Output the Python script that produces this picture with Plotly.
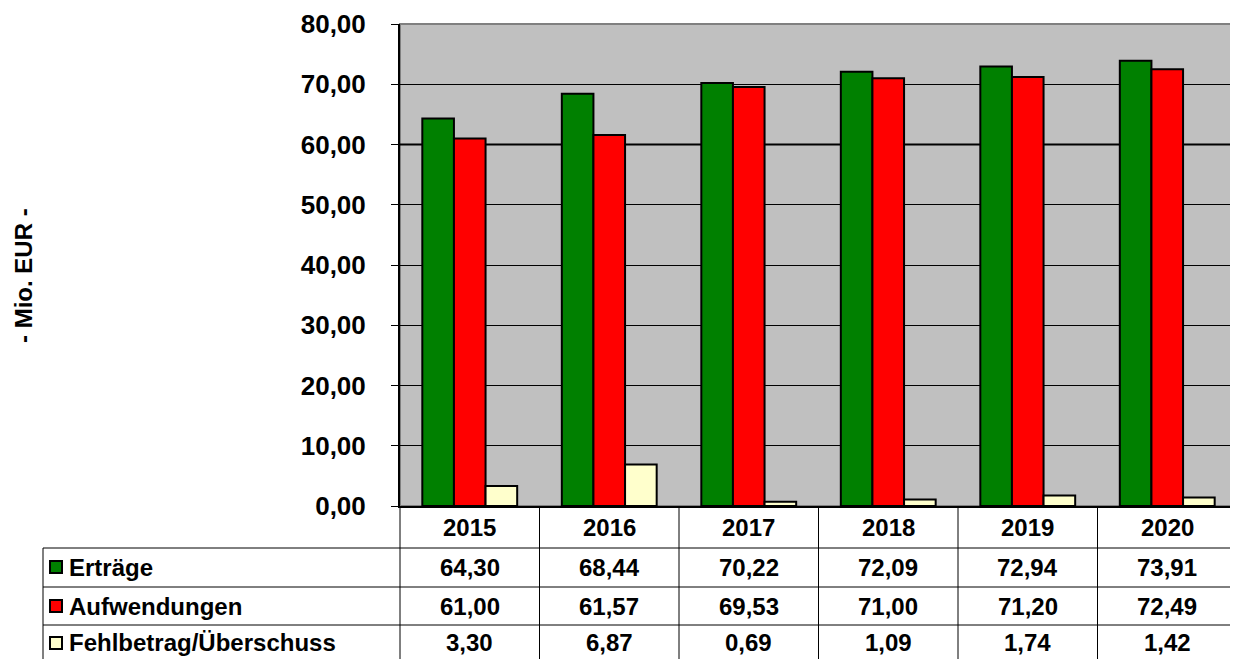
import plotly.graph_objects as go

years = ["2015", "2016", "2017", "2018", "2019", "2020"]
ertraege = [64.30, 68.44, 70.22, 72.09, 72.94, 73.91]
aufwendungen = [61.00, 61.57, 69.53, 71.00, 71.20, 72.49]
fehlbetrag = [3.30, 6.87, 0.69, 1.09, 1.74, 1.42]

series = [
    ("Erträge", ertraege, "#008000"),
    ("Aufwendungen", aufwendungen, "#FF0000"),
    ("Fehlbetrag/Überschuss", fehlbetrag, "#FFFFCC"),
]

OFF = 8  # page body margin in the browser
PW, PH = 1238, 659          # page size
W, H = PW - OFF, PH - OFF   # figure size
PLOT_L, PLOT_R, PLOT_T, PLOT_B = 400, 1237, 24, 506  # page pixels
L, T = PLOT_L - OFF, PLOT_T - OFF
R, B = OFF + W - PLOT_R, OFF + H - PLOT_B
plot_h = PLOT_B - PLOT_T
plot_w = PLOT_R - PLOT_L
FONT = "Liberation Sans, Arial, sans-serif"
n = len(years)


def py(p):
    # page pixel row -> paper y
    return (PLOT_B - p) / plot_h


def px(p):
    return (p - PLOT_L) / plot_w


def de(v):
    return f"{v:.2f}".replace(".", ",")


fig = go.Figure()
for name, vals, col in series:
    fig.add_trace(go.Bar(
        x=years, y=vals, name=name,
        marker=dict(color=col, line=dict(color="black", width=2)),
    ))

# plot border (grey top/right)
fig.add_shape(type="rect", xref="paper", yref="paper", x0=0, x1=1, y0=0, y1=1,
              line=dict(color="#808080", width=2), layer="below")
fig.add_hline(y=60, line=dict(color="black", width=2), layer="below")

# data table below the plot
row_lines = [548, 587, 625]
for r in row_lines:
    fig.add_shape(type="line", xref="paper", yref="paper",
                  x0=px(43), x1=px(PW + 5), y0=py(r), y1=py(r),
                  line=dict(color="black", width=1))
fig.add_shape(type="line", xref="paper", yref="paper",
              x0=px(43), x1=px(43), y0=py(548), y1=py(PH + 5),
              line=dict(color="black", width=1))
for i in range(n):
    fig.add_shape(type="line", xref="paper", yref="paper",
                  x0=i / n, x1=i / n, y0=0, y1=py(PH + 5),
                  line=dict(color="black", width=1))

for i, yr in enumerate(years):
    fig.add_annotation(x=(i + 0.5) / n, xref="paper", y=py(527), yref="paper",
                       text=f"<b>{yr}</b>", showarrow=False,
                       xanchor="center", yanchor="middle",
                       font=dict(size=24, color="black", family=FONT))

row_centers = [567, 606, 643]
for (name, vals, col), rc in zip(series, row_centers):
    fig.add_shape(type="rect", xref="paper", yref="paper",
                  x0=px(50), x1=px(62), y0=py(rc - 6), y1=py(rc + 6),
                  fillcolor=col, line=dict(color="black", width=2))
    fig.add_annotation(x=px(67), xref="paper", y=py(rc), yref="paper",
                       text=f"<b>{name}</b>", xanchor="left", yanchor="middle",
                       showarrow=False,
                       font=dict(size=24, color="black", family=FONT))
    for i, v in enumerate(vals):
        fig.add_annotation(x=(i + 0.5) / n, xref="paper", y=py(rc), yref="paper",
                           text=f"<b>{de(v)}</b>", showarrow=False,
                           xanchor="center", yanchor="middle",
                           font=dict(size=24, color="black", family=FONT))

fig.add_annotation(x=px(23), xref="paper", y=py(276), yref="paper",
                   text="<b>- Mio. EUR -</b>", textangle=-90, showarrow=False,
                   xanchor="center", yanchor="middle", borderpad=0,
                   font=dict(size=24, color="black", family=FONT))

fig.update_layout(
    width=W, height=H,
    margin=dict(l=L, r=R, t=T, b=B, pad=0),
    paper_bgcolor="white", plot_bgcolor="#C0C0C0",
    barmode="group", bargap=0.32, bargroupgap=0,
    showlegend=False,
    separators=",.",
    font=dict(family=FONT, color="black"),
    xaxis=dict(type="category", showticklabels=False, showline=True,
               linecolor="black", linewidth=2,
               ticks="", showgrid=False, zeroline=False),
    yaxis=dict(range=[0, 80], dtick=10, tickformat=".2f", showgrid=True,
               gridcolor="black", gridwidth=1, zeroline=False,
               showline=True, linecolor="black", linewidth=2,
               ticks="outside", ticklen=7, tickcolor="black", tickwidth=1,
               ticklabelstandoff=20,
               tickfont=dict(size=26, color="black", family=FONT, weight="bold")),
)

fig.write_html("out.html")
